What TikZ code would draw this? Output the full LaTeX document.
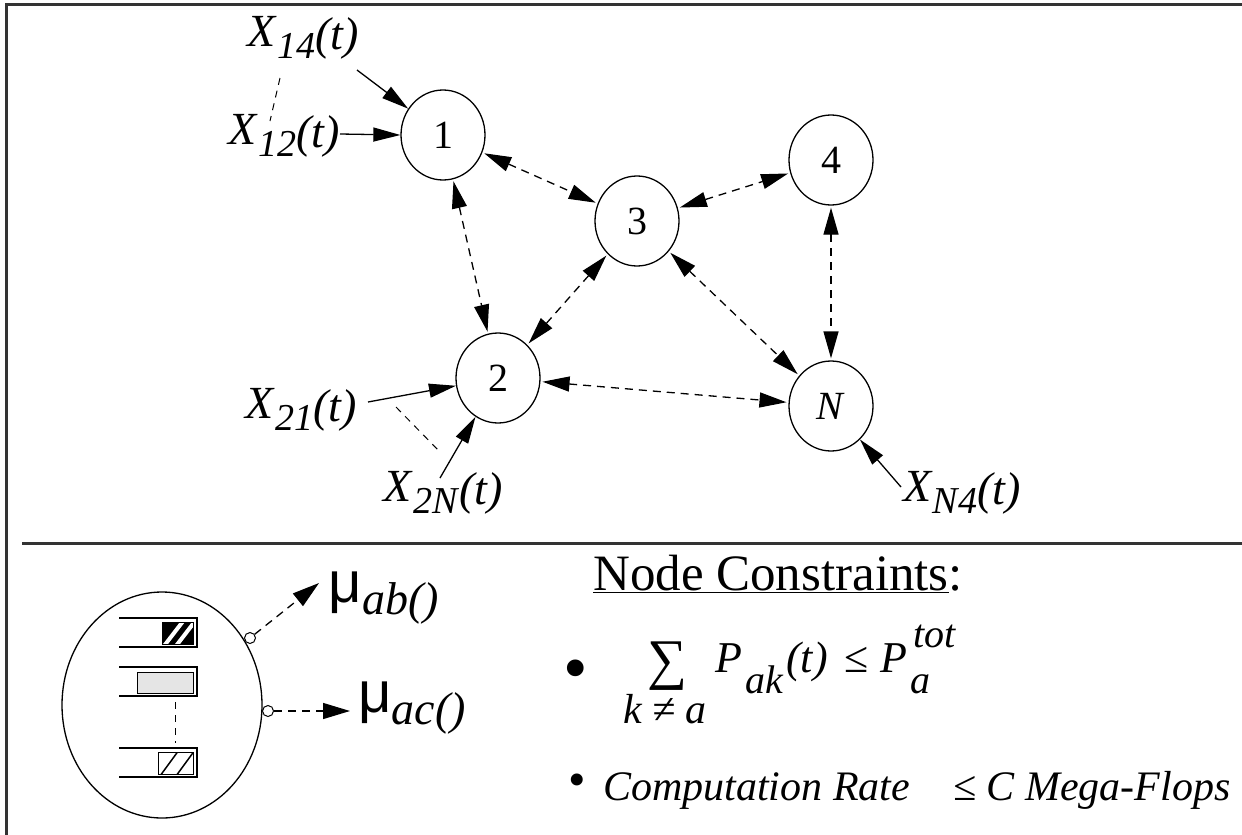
\documentclass[tikz,border=0pt]{standalone}
\usepackage{fontspec}
\setmainfont{Liberation Serif}
\newfontfamily\symfont{Liberation Sans}
\usetikzlibrary{arrows.meta,shapes.geometric}

\newcommand{\fs}[1]{\fontsize{#1}{#1}\selectfont}
% input flow label X_{ij}(t)
\newcommand{\xin}[1]{\textit{X}\raisebox{-12pt}{\fs{38}\textit{#1}}\raisebox{-3pt}{\textit{(t)}}}
% rate label mu_{ij}()
\newcommand{\rate}[1]{{\symfont μ}\raisebox{-12pt}{\fs{46}\textit{#1()}}}

\tikzset{
  gnode/.style={ellipse,draw,line width=1.3pt,minimum width=84pt,minimum height=90pt,inner sep=0pt,font=\fs{40}},
  link/.style={line width=1.3pt,dash pattern=on 8pt off 6pt,{Triangle[length=27pt,width=15pt]}-{Triangle[length=27pt,width=15pt]},shorten <=2pt,shorten >=2pt},
  feed/.style={line width=1.3pt,-{Triangle[length=27pt,width=14pt]}},
  tie/.style={line width=1pt,dash pattern=on 7pt off 6pt},
  xlab/.style={font=\fs{46},inner sep=0pt},
  frame/.style={line width=3pt,draw=black!80},
  port/.style={circle,draw,line width=1pt,fill=white,minimum size=11pt,inner sep=0pt},
  eqn/.style={font=\fs{44}\itshape,anchor=base west,inner sep=0pt},
  sub/.style={eqn,font=\fs{40}\itshape}
}

\begin{document}
\begin{tikzpicture}[x=1pt,y=-1pt]
  \useasboundingbox (0,0) rectangle (1242,835);
  \draw[frame] (6,4) -- (1242,4);
  \draw[frame] (6,3) -- (6,835);
  \draw[frame] (22,543) -- (1242,543);

  % network
  \node[gnode] (n1) at (443,135) {1};
  \node[gnode] (n3) at (637,221) {3};
  \node[gnode] (n4) at (831,160) {4};
  \node[gnode] (n2) at (498,378) {2};
  \node[gnode] (nN) at (831,406) {\textit{N}};

  \draw[link] (n1) -- (n3);
  \draw[link] (n1) -- (n2);
  \draw[link] (n3) -- (n2);
  \draw[link] (n3) -- (n4);
  \draw[link] (n3) -- (nN);
  \draw[link] (n4) -- (nN);
  \draw[link] (n2) -- (nN);

  % external flows
  \node[xlab] (x14) at (303,38) {\xin{14}};
  \node[xlab] (x12) at (284,136) {\xin{12}};
  \node[xlab] (x21) at (301,410) {\xin{21}};
  \node[xlab] (x2N) at (443,493) {\xin{2N}};
  \node[xlab] (xN4) at (962,493) {\xin{N4}};

  \coordinate (x14e) at (357,70);
  \coordinate (x12e) at (340,134);
  \coordinate (x21e) at (368,402);
  \coordinate (x2Ne) at (440,478);
  \coordinate (xN4e) at (901,487);
  \draw[feed] (x14e) -- (n1);
  \draw[feed] (x12e) -- (n1.west);
  \draw[feed] (x21e) -- (n2);
  \draw[feed] (x2Ne) -- (n2);
  \draw[feed] (xN4e) -- (nN);

  \coordinate (t1a) at (280,78);
  \coordinate (t1b) at (270,121);
  \coordinate (t2a) at (396,407);
  \coordinate (t2b) at (440,452);
  \draw[tie] (t1a) -- (t1b);
  \draw[tie] (t2a) -- (t2b);

  % node detail
  \node[ellipse,draw,line width=1.3pt,minimum width=200pt,minimum height=226pt,inner sep=0pt] (cell) at (162,705) {};
  \foreach \y in {618,667,748}
    \draw[line width=1.3pt] (119,\y) -- (197,\y) -- (197,\y+29) -- (119,\y+29);
  \begin{scope}
    \clip (162,622) rectangle (193,644);
    \fill[black] (162,622) rectangle (193,644);
    \draw[white,line width=4pt] (164,646) -- (184,620);
    \draw[white,line width=4pt] (176,646) -- (196,620);
  \end{scope}
  \draw[line width=1pt] (162,622) rectangle (193,644);
  \draw[line width=1pt,fill=black!10] (137,672) rectangle (193,693);
  \begin{scope}
    \clip (158,752) rectangle (193,774);
    \draw[line width=1.5pt] (160,776) -- (179,750);
    \draw[line width=1.5pt] (176,776) -- (195,750);
  \end{scope}
  \draw[line width=1pt] (158,752) rectangle (193,774);
  \draw[tie] (175,702) -- (175,743);

  \node[port] (p1) at (250,638) {};
  \node[port] (p2) at (268,711) {};
  \node[font=\fs{58},inner sep=0pt] (mab) at (384,598) {\rate{ab}};
  \node[font=\fs{58},inner sep=0pt] (mac) at (412,708) {\rate{ac}};
  \coordinate (mabt) at (319,583);
  \coordinate (mact) at (350,711);
  \draw[line width=1.3pt,dash pattern=on 8pt off 6pt,-{Triangle[length=27pt,width=16pt]}] (p1) -- (mabt);
  \draw[line width=1.3pt,dash pattern=on 8pt off 6pt,-{Triangle[length=27pt,width=16pt]}] (p2) -- (mact);

  % constraints
  \node[font=\fs{51},anchor=base west,inner sep=0pt] (head) at (593,590) {\underline{Node Constraints}:};
  \node[font=\fs{70},inner sep=0pt] (b1) at (576,676) {•};
  \node[font=\fs{56},inner sep=0pt] (sum) at (667,666) {∑};
  \node[sub,font=\fs{42}\itshape] (kna) at (623,723) {k ≠ a};
  \node[eqn] (pak) at (715,672) {P};
  \node[sub] (ak) at (745,693) {ak};
  \node[eqn] (pt) at (786,672) {(t)};
  \node[eqn,font=\fs{44}] (le) at (844,672) {≤};
  \node[eqn] (pa) at (880,672) {P};
  \node[sub] (tot) at (913,647) {tot};
  \node[sub] (sa) at (910,693) {a};
  \node[font=\fs{50},inner sep=0pt] (b2) at (577,785) {•};
  \node[eqn,font=\fs{42}\itshape] (rate) at (603,800) {Computation Rate};
  \node[eqn,font=\fs{42}\itshape] (cmf) at (953,800) {≤ C Mega-Flops};
\end{tikzpicture}
\end{document}
